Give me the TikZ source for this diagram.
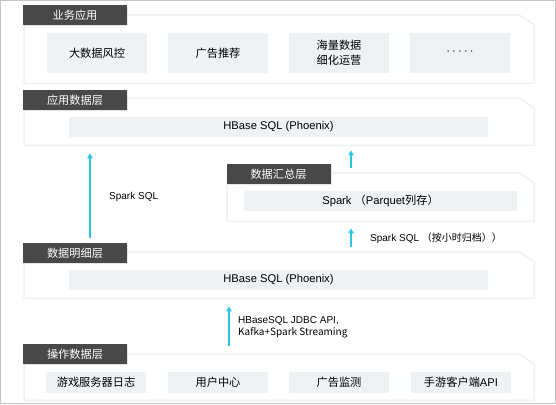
\documentclass[tikz,border=0pt]{standalone}
\usepackage{fontspec}
\setmainfont{Noto Sans CJK SC}
\newfontfamily\latin{Liberation Sans}
\usepackage{xcolor}
\usepackage{tikz}
\usetikzlibrary{arrows.meta, shadows, positioning, calc}
\definecolor{tabgray}{HTML}{484848}
\definecolor{cellfill}{HTML}{EEF2F4}
\definecolor{flowcyan}{HTML}{2EC4E8}
\definecolor{framegray}{HTML}{C4C4C4}
\newcommand{\layerframe}[1]{\filldraw [fill=white, draw=black!6, line width=1.5pt] (#1.north west) -- ([xshift=-15pt]#1.north east) -- ([yshift=-10pt]#1.north east) -- (#1.south east) -- (#1.south west) -- cycle;}

\begin{document}
\begin{tikzpicture}[x=1pt, y=-1pt,
        panel/.style={rectangle, anchor=north west, inner sep=0pt, minimum width=510pt},
        tab/.style={rectangle, fill=tabgray, text=white, minimum width=104pt, minimum height=20pt, inner sep=0pt, font=\fontsize{11.2}{13}\selectfont, drop shadow={opacity=0.2, shadow xshift=1pt, shadow yshift=-1pt}},
        cell/.style={rectangle, fill=cellfill, minimum width=100pt, inner sep=0pt, align=center, font=\fontsize{11.2}{15}\selectfont},
        wide/.style={cell, minimum width=419pt, minimum height=20pt},
        note/.style={anchor=west, align=left, inner sep=0pt, font=\fontsize{10}{12}\selectfont},
        arrow/.style={flowcyan, line width=1.2pt, -{Triangle[length=5pt, width=5.5pt]}}
    ]
        \useasboundingbox (0,0) rectangle (556,404);
        \draw [framegray, line width=1pt] (0.5,0.5) rectangle (555.5,403.5);

        \node (p1) [panel, minimum height=68pt] at (24,15) {};
        \node (p2) [panel, minimum height=47pt] at (24,98) {};
        \node (p3) [panel, minimum height=48pt, minimum width=307pt] at (227,173) {};
        \node (p4) [panel, minimum height=46pt] at (24,252) {};
        \node (p5) [panel, minimum height=46pt] at (24,354) {};
        \layerframe{p1}
        \layerframe{p2}
        \layerframe{p3}
        \layerframe{p4}
        \layerframe{p5}

        \node (c11) [cell, minimum height=40pt] at (97,53) {大数据风控};
        \node (c12) [cell, minimum height=40pt] at (218,53) {广告推荐};
        \node (c13) [cell, minimum height=40pt] at (339,53) {海量数据\\细化运营};
        \node (c14) [cell, minimum height=40pt] at (460,53) {\latin ·\hspace{2.2pt}·\hspace{2.2pt}·\hspace{2.2pt}·\hspace{2.2pt}·};
        \node (c2) [wide] at (278.5,127) {\latin HBase SQL (Phoenix)};
        \node (c3) [wide, minimum width=273pt] at (380.5,201) {{\latin Spark }（{\latin Parquet}列存）};
        \node (c4) [wide] at (278.5,280) {\latin HBase SQL (Phoenix)};
        \node (c51) [cell, minimum height=21pt] at (96,382.5) {游戏服务器日志};
        \node (c52) [cell, minimum height=21pt] at (218,382.5) {用户中心};
        \node (c53) [cell, minimum height=21pt] at (339,382.5) {广告监测};
        \node (c54) [cell, minimum height=21pt] at (461,382.5) {手游客户端{\latin API}};

        \node (t1) [tab] at (75,15.5) {业务应用};
        \node (t2) [tab] at (75,100) {应用数据层};
        \node (t3) [tab] at (278.5,174) {数据汇总层};
        \node (t4) [tab] at (75,253) {数据明细层};
        \node (t5) [tab] at (75,354) {操作数据层};

        \coordinate (leftx) at (90,0);
        \coordinate (rightx) at (351,0);
        \coordinate (midx) at (229,0);
        \draw [arrow, shorten <=5pt, shorten >=8pt] (t4.north -| leftx) -- (p2.south -| leftx);
        \draw [arrow, shorten <=5pt, shorten >=5pt] (p3.north -| rightx) -- (p2.south -| rightx);
        \draw [arrow, shorten <=5pt, shorten >=7pt] (p4.north -| rightx) -- (p3.south -| rightx);
        \draw [arrow, shorten <=8pt, shorten >=8pt] (p5.north -| midx) -- (p4.south -| midx);

        \node (l1) [note] at (109,197) {\latin Spark SQL};
        \node (l2) [note] at (370,238) {{\latin Spark SQL }（按小时归档））};
        \node (l3) [note] at (238,327) {\latin HBaseSQL JDBC API,\\Kafka+Spark Streaming};
    \end{tikzpicture}
\end{document}
